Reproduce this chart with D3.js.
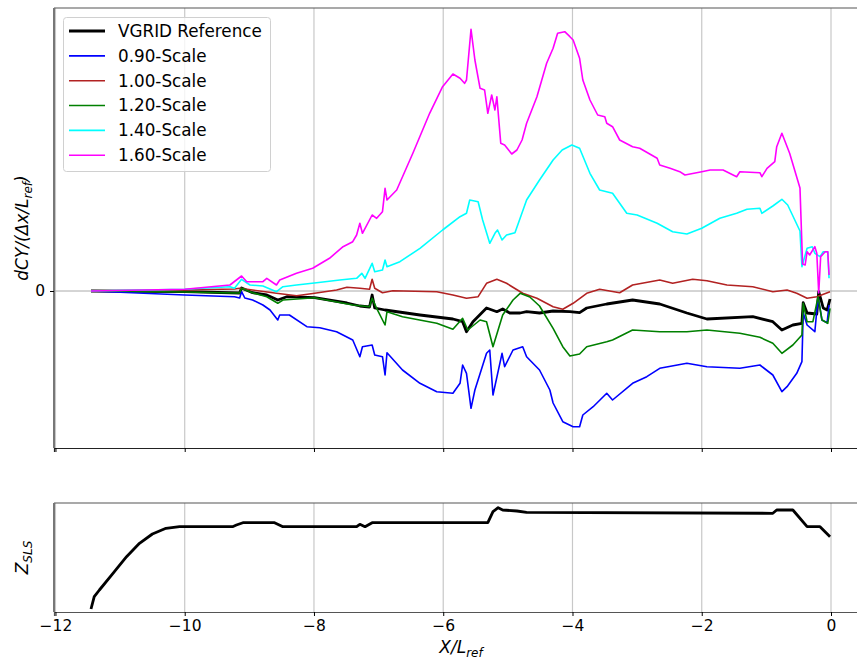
<!DOCTYPE html>
<html>
<head>
<meta charset="utf-8">
<script src="https://cdn.jsdelivr.net/npm/d3@7"></script>
<style>
	body { margin: 0; background: #fff; }
	svg { font-family: "DejaVu Sans", sans-serif; }
</style>
</head>
<body>
<svg id="myChart" width="857" height="663"></svg>
<script>
// Series names and colours (legend order)
const seriesNames = ['VGRID Reference', '0.90-Scale', '1.00-Scale', '1.20-Scale', '1.40-Scale', '1.60-Scale'];
const seriesColors = ['#000000', '#0000ff', '#b22222', '#008000', '#00ffff', '#ff00ff'];

// x tick labels
const xTicks = [-12, -10, -8, -6, -4, -2, 0];

// dCY/(dx/Lref) per scale, [X/Lref, value]
const vgrid = [[-11.45, 0], [-10.0, -0.007], [-9.15, -0.02], [-9.12, 0.03], [-8.95, -0.017], [-8.73, -0.04],
	[-8.56, -0.09], [-8.42, -0.057], [-7.99, -0.067], [-7.49, -0.12], [-7.29, -0.15], [-7.14, -0.16],
	[-7.10, -0.04], [-7.06, -0.17], [-6.90, -0.19], [-6.36, -0.24], [-5.85, -0.28], [-5.70, -0.307],
	[-5.64, -0.407], [-5.54, -0.307], [-5.33, -0.17], [-5.17, -0.207], [-5.08, -0.18], [-4.97, -0.22],
	[-4.81, -0.22], [-4.71, -0.207], [-4.51, -0.22], [-4.30, -0.20], [-4.04, -0.207], [-3.89, -0.217],
	[-3.78, -0.17], [-3.47, -0.13], [-3.07, -0.09], [-2.65, -0.13], [-2.23, -0.22], [-1.92, -0.28],
	[-1.21, -0.257], [-0.90, -0.307], [-0.76, -0.39], [-0.59, -0.34], [-0.45, -0.323], [-0.43, -0.117],
	[-0.37, -0.22], [-0.22, -0.23], [-0.19, -0.007], [-0.12, -0.17], [-0.06, -0.19], [-0.015, -0.08]];

const scale090 = [[-11.45, 0], [-10.0, -0.04], [-9.23, -0.057], [-9.15, -0.07], [-9.12, -0.007], [-9.07, -0.07],
	[-8.95, -0.09], [-8.79, -0.14], [-8.68, -0.19], [-8.56, -0.29], [-8.53, -0.24], [-8.38, -0.24],
	[-8.11, -0.357], [-7.91, -0.367], [-7.65, -0.407], [-7.40, -0.49], [-7.29, -0.657], [-7.25, -0.557],
	[-7.10, -0.54], [-7.06, -0.64], [-6.94, -0.657], [-6.90, -0.84], [-6.87, -0.617], [-6.63, -0.79],
	[-6.36, -0.923], [-6.10, -1.007], [-5.85, -1.023], [-5.74, -0.923], [-5.70, -0.74], [-5.64, -0.823],
	[-5.57, -1.173], [-5.51, -0.99], [-5.33, -0.623], [-5.28, -0.59], [-5.23, -1.04], [-5.09, -0.623],
	[-5.05, -0.757], [-4.92, -0.59], [-4.77, -0.557], [-4.71, -0.657], [-4.51, -0.79], [-4.35, -0.99],
	[-4.30, -1.12], [-4.15, -1.307], [-3.99, -1.357], [-3.89, -1.357], [-3.84, -1.24], [-3.68, -1.157],
	[-3.47, -1.023], [-3.38, -1.09], [-3.07, -0.923], [-2.85, -0.857], [-2.65, -0.773], [-2.23, -0.723],
	[-1.92, -0.757], [-1.41, -0.773], [-1.10, -0.74], [-0.90, -0.84], [-0.76, -1.007], [-0.68, -0.957],
	[-0.53, -0.823], [-0.45, -0.707], [-0.43, -0.22], [-0.37, -0.34], [-0.25, -0.407], [-0.20, -0.057],
	[-0.14, -0.29], [-0.06, -0.317], [-0.03, -0.14]];

const scale100 = [[-11.45, 0], [-10.0, 0.01], [-9.23, 0.02], [-9.15, 0.027], [-8.95, 0.01], [-8.58, -0.023],
	[-8.27, -0.047], [-7.99, -0.023], [-7.65, 0.01], [-7.49, 0.037], [-7.29, 0.027], [-7.14, 0.017],
	[-7.10, 0.117], [-7.06, 0.027], [-6.94, -0.017], [-6.78, 0.003], [-6.10, -0.007], [-5.85, -0.04],
	[-5.64, -0.073], [-5.46, -0.057], [-5.33, 0.077], [-5.17, 0.117], [-5.02, 0.077], [-4.77, -0.023],
	[-4.55, -0.073], [-4.30, -0.157], [-4.15, -0.183], [-3.99, -0.123], [-3.78, -0.023], [-3.58, 0.017],
	[-3.27, -0.017], [-3.07, 0.06], [-2.65, 0.11], [-2.45, 0.077], [-2.14, 0.117], [-1.92, 0.103],
	[-1.61, 0.06], [-1.21, 0.043], [-0.90, -0.007], [-0.68, 0.01], [-0.53, -0.023], [-0.37, -0.073],
	[-0.22, -0.057], [-0.015, -0.007]];

const scale120 = [[-11.45, 0], [-10.0, -0.01], [-9.23, -0.02], [-9.15, -0.02], [-9.12, 0.027], [-8.95, -0.017],
	[-8.73, -0.057], [-8.56, -0.123], [-8.48, -0.09], [-7.99, -0.067], [-7.40, -0.14], [-7.14, -0.157],
	[-7.10, -0.073], [-7.03, -0.173], [-6.90, -0.34], [-6.87, -0.207], [-6.63, -0.257], [-6.10, -0.323],
	[-5.85, -0.383], [-5.70, -0.273], [-5.62, -0.39], [-5.43, -0.29], [-5.33, -0.307], [-5.23, -0.557],
	[-5.08, -0.24], [-4.92, -0.09], [-4.81, -0.023], [-4.66, -0.06], [-4.51, -0.15], [-4.30, -0.373],
	[-4.15, -0.557], [-4.04, -0.65], [-3.89, -0.63], [-3.78, -0.557], [-3.47, -0.507], [-3.38, -0.49],
	[-3.07, -0.39], [-2.65, -0.407], [-2.23, -0.407], [-1.92, -0.39], [-1.41, -0.423], [-1.10, -0.463],
	[-0.90, -0.523], [-0.76, -0.623], [-0.59, -0.54], [-0.45, -0.44], [-0.43, -0.123], [-0.37, -0.307],
	[-0.28, -0.307], [-0.20, -0.057], [-0.14, -0.29], [-0.05, -0.323], [-0.015, -0.173]];

const scale140 = [[-11.45, 0], [-10.0, 0.017], [-9.30, 0.043], [-9.23, 0.027], [-9.12, 0.117], [-8.99, 0.06],
	[-8.79, 0.05], [-8.58, -0.007], [-8.48, 0.043], [-8.27, 0.06], [-7.96, 0.083], [-7.60, 0.11],
	[-7.34, 0.127], [-7.26, 0.177], [-7.21, 0.127], [-7.10, 0.277], [-7.06, 0.193], [-6.94, 0.21],
	[-6.90, 0.31], [-6.87, 0.243], [-6.67, 0.293], [-6.36, 0.427], [-6.01, 0.61], [-5.74, 0.743],
	[-5.64, 0.777], [-5.59, 0.91], [-5.46, 0.893], [-5.39, 0.71], [-5.28, 0.477], [-5.20, 0.577],
	[-5.16, 0.61], [-5.09, 0.51], [-5.02, 0.56], [-4.89, 0.583], [-4.71, 0.91], [-4.51, 1.11],
	[-4.30, 1.31], [-4.16, 1.41], [-4.01, 1.46], [-3.89, 1.427], [-3.73, 1.177], [-3.58, 1.01],
	[-3.38, 0.977], [-3.16, 0.777], [-3.00, 0.76], [-2.69, 0.677], [-2.45, 0.593], [-2.23, 0.57],
	[-2.00, 0.627], [-1.72, 0.727], [-1.46, 0.777], [-1.30, 0.817], [-1.10, 0.827], [-1.07, 0.777],
	[-0.90, 0.85], [-0.76, 0.917], [-0.67, 0.86], [-0.48, 0.60], [-0.45, 0.243], [-0.37, 0.427],
	[-0.29, 0.443], [-0.25, 0.377], [-0.17, 0.343], [-0.12, 0.393], [-0.05, 0.393], [-0.03, 0.127]];

const scale160 = [[-11.45, 0], [-10.0, 0.017], [-9.30, 0.06], [-9.12, 0.15], [-9.04, 0.093], [-8.79, 0.093],
	[-8.73, 0.127], [-8.58, 0.06], [-8.53, 0.11], [-8.27, 0.177], [-8.02, 0.227], [-7.76, 0.327],
	[-7.55, 0.443], [-7.40, 0.493], [-7.34, 0.56], [-7.29, 0.677], [-7.25, 0.577], [-7.10, 0.76],
	[-7.03, 0.727], [-6.94, 0.793], [-6.90, 1.027], [-6.87, 0.91], [-6.72, 1.01], [-6.47, 1.377],
	[-6.21, 1.777], [-6.01, 2.043], [-5.85, 2.17], [-5.74, 2.127], [-5.67, 2.077], [-5.64, 2.11],
	[-5.57, 2.617], [-5.51, 2.31], [-5.43, 2.027], [-5.36, 2.01], [-5.31, 1.777], [-5.25, 1.96],
	[-5.20, 1.81], [-5.17, 1.943], [-5.11, 1.477], [-5.05, 1.46], [-4.94, 1.37], [-4.86, 1.41],
	[-4.78, 1.51], [-4.71, 1.677], [-4.55, 1.943], [-4.40, 2.277], [-4.30, 2.427], [-4.23, 2.577],
	[-4.12, 2.593], [-4.04, 2.543], [-3.99, 2.51], [-3.89, 2.327], [-3.84, 2.11], [-3.73, 1.91],
	[-3.61, 1.76], [-3.50, 1.743], [-3.47, 1.677], [-3.38, 1.643], [-3.27, 1.51], [-3.07, 1.443],
	[-2.96, 1.427], [-2.69, 1.327], [-2.65, 1.26], [-2.49, 1.227], [-2.34, 1.193], [-2.26, 1.16],
	[-2.00, 1.193], [-1.87, 1.21], [-1.67, 1.21], [-1.46, 1.143], [-1.41, 1.193], [-1.10, 1.183],
	[-1.07, 1.143], [-0.99, 1.227], [-0.87, 1.293], [-0.84, 1.443], [-0.76, 1.577], [-0.64, 1.377],
	[-0.48, 1.03], [-0.44, 0.27], [-0.40, 0.26], [-0.37, 0.393], [-0.33, 0.36], [-0.25, 0.443],
	[-0.22, 0.377], [-0.19, -0.02], [-0.16, 0.343], [-0.09, 0.393], [-0.05, 0.393], [-0.03, 0.16]];

// Z_SLS (bottom panel), [X/Lref, value]
const zsls = [[-11.45, 0.03], [-11.40, 0.153], [-11.32, 0.22], [-11.11, 0.387], [-10.90, 0.553], [-10.70, 0.687],
	[-10.50, 0.78], [-10.29, 0.837], [-10.08, 0.853], [-9.26, 0.853], [-9.20, 0.87], [-9.10, 0.893],
	[-8.61, 0.893], [-8.48, 0.853], [-7.34, 0.853], [-7.29, 0.877], [-7.21, 0.853], [-7.10, 0.893],
	[-5.31, 0.893], [-5.23, 1.003], [-5.15, 1.043], [-5.08, 1.02], [-4.86, 1.01], [-4.71, 0.997],
	[-0.90, 0.987], [-0.84, 1.02], [-0.59, 1.02], [-0.37, 0.853], [-0.17, 0.853], [-0.015, 0.753]];

const allSeries = [vgrid, scale090, scale100, scale120, scale140, scale160];

// Layout
const left = 54, right = 868;
const top1 = 8, bottom1 = 448;
const top2 = 503, bottom2 = 612;

const svg = d3.select('#myChart');

const xScale = d3.scaleLinear()
	.domain([-12.0225, 0.5725])
	.range([left, right]);

const yScale = d3.scaleLinear()
	.domain([-1.57, 2.83])
	.range([bottom1, top1]);

const zScale = d3.scaleLinear()
	.domain([0, 1.09])
	.range([bottom2, top2]);

/* ===== top panel ===== */
const topPanel = svg.append('g').attr('class', 'topPanel');

// grid
topPanel.selectAll('.vgrid')
	.data(xTicks)
	.enter().append('line')
		.attr('x1', d => xScale(d)).attr('x2', d => xScale(d))
		.attr('y1', top1).attr('y2', bottom1)
		.attr('stroke', '#c8c8c8').attr('stroke-width', 1.2);

topPanel.append('line')
	.attr('x1', left).attr('x2', right)
	.attr('y1', yScale(0)).attr('y2', yScale(0))
	.attr('stroke', '#aaaaaa').attr('stroke-width', 1);

// lines
const line = d3.line()
	.x(d => xScale(d[0]))
	.y(d => yScale(d[1]));

topPanel.selectAll('.series')
	.data(allSeries)
	.enter().append('path')
		.attr('class', 'series')
		.attr('d', line)
		.attr('fill', 'none')
		.attr('stroke', (d, i) => seriesColors[i])
		.attr('stroke-width', (d, i) => i === 0 ? 2.8 : 1.6)
		.attr('stroke-linejoin', 'round');

// spines
topPanel.append('line')
	.attr('x1', left).attr('x2', right).attr('y1', top1).attr('y2', top1)
	.attr('stroke', '#555').attr('stroke-width', 1.2);
topPanel.append('line')
	.attr('x1', left).attr('x2', left).attr('y1', top1).attr('y2', bottom1)
	.attr('stroke', '#777').attr('stroke-width', 2);

// x axis without labels
topPanel.append('g')
	.attr('transform', `translate(0, ${bottom1})`)
	.call(d3.axisBottom(xScale).tickValues(xTicks).tickSize(4).tickFormat(''))
	.call(g => g.select('.domain').attr('stroke', '#222').attr('stroke-width', 1.2));

// y axis, only the zero tick
topPanel.append('g')
	.attr('transform', `translate(${left}, 0)`)
	.call(d3.axisLeft(yScale).tickValues([0]).tickSize(4).tickPadding(5).tickFormat(d3.format('d')))
	.call(g => g.select('.domain').remove())
	.call(g => g.selectAll('text').attr('font-size', 15.5).attr('font-family', 'DejaVu Sans').attr('fill', '#000'));

// y label
const yLab = topPanel.append('text')
	.attr('transform', `translate(28, ${(top1 + bottom1) / 2}) rotate(-90)`)
	.attr('text-anchor', 'middle')
	.attr('font-size', 17)
	.attr('font-style', 'italic');
yLab.append('tspan').text('dCY/(Δx/L');
yLab.append('tspan').attr('font-size', 12).attr('dy', 4).text('ref');
yLab.append('tspan').attr('dy', -4).text(')');

// legend
const legend = topPanel.append('g').attr('class', 'legend');
legend.append('rect')
	.attr('x', 63.5).attr('y', 17.5)
	.attr('width', 207).attr('height', 154)
	.attr('rx', 3)
	.attr('fill', 'rgba(255,255,255,0.8)')
	.attr('stroke', '#d0d0d0');

const legendItems = legend.selectAll('.item')
	.data(seriesNames)
	.enter().append('g')
		.attr('transform', (d, i) => `translate(0, ${31 + i * 24.85})`);

legendItems.append('line')
	.attr('x1', 69).attr('x2', 105)
	.attr('stroke', (d, i) => seriesColors[i])
	.attr('stroke-width', (d, i) => i === 0 ? 2.8 : 1.6);

legendItems.append('text')
	.attr('x', 118)
	.attr('dy', '0.35em')
	.attr('font-size', 16.8)
	.text(d => d);

/* ===== bottom panel ===== */
const bottomPanel = svg.append('g').attr('class', 'bottomPanel');

bottomPanel.selectAll('.vgrid')
	.data(xTicks)
	.enter().append('line')
		.attr('x1', d => xScale(d)).attr('x2', d => xScale(d))
		.attr('y1', top2).attr('y2', bottom2)
		.attr('stroke', '#c8c8c8').attr('stroke-width', 1.2);

bottomPanel.append('path')
	.datum(zsls)
	.attr('d', d3.line().x(d => xScale(d[0])).y(d => zScale(d[1])))
	.attr('fill', 'none')
	.attr('stroke', '#000')
	.attr('stroke-width', 2.8)
	.attr('stroke-linejoin', 'round');

bottomPanel.append('line')
	.attr('x1', left).attr('x2', right).attr('y1', top2).attr('y2', top2)
	.attr('stroke', '#555').attr('stroke-width', 1.2);
bottomPanel.append('line')
	.attr('x1', left).attr('x2', left).attr('y1', top2).attr('y2', bottom2)
	.attr('stroke', '#777').attr('stroke-width', 2);

bottomPanel.append('g')
	.attr('transform', `translate(0, ${bottom2})`)
	.call(d3.axisBottom(xScale).tickValues(xTicks).tickSize(4).tickPadding(4)
		.tickFormat(d => d < 0 ? '\u2212' + Math.abs(d) : d))
	.call(g => g.select('.domain').attr('stroke', '#555').attr('stroke-width', 1.2))
	.call(g => g.selectAll('text').attr('font-size', 15.5).attr('font-family', 'DejaVu Sans').attr('fill', '#000'));

// z label
const zLab = bottomPanel.append('text')
	.attr('transform', `translate(28, ${(top2 + bottom2) / 2}) rotate(-90)`)
	.attr('text-anchor', 'middle')
	.attr('font-size', 17)
	.attr('font-style', 'italic');
zLab.append('tspan').text('Z');
zLab.append('tspan').attr('font-size', 12).attr('dy', 4).text('SLS');

// x label
const xLab = bottomPanel.append('text')
	.attr('x', (left + right) / 2)
	.attr('y', 653)
	.attr('text-anchor', 'middle')
	.attr('font-size', 17)
	.attr('font-style', 'italic');
xLab.append('tspan').text('X/L');
xLab.append('tspan').attr('font-size', 12).attr('dy', 4).text('ref');
</script>
</body>
</html>
